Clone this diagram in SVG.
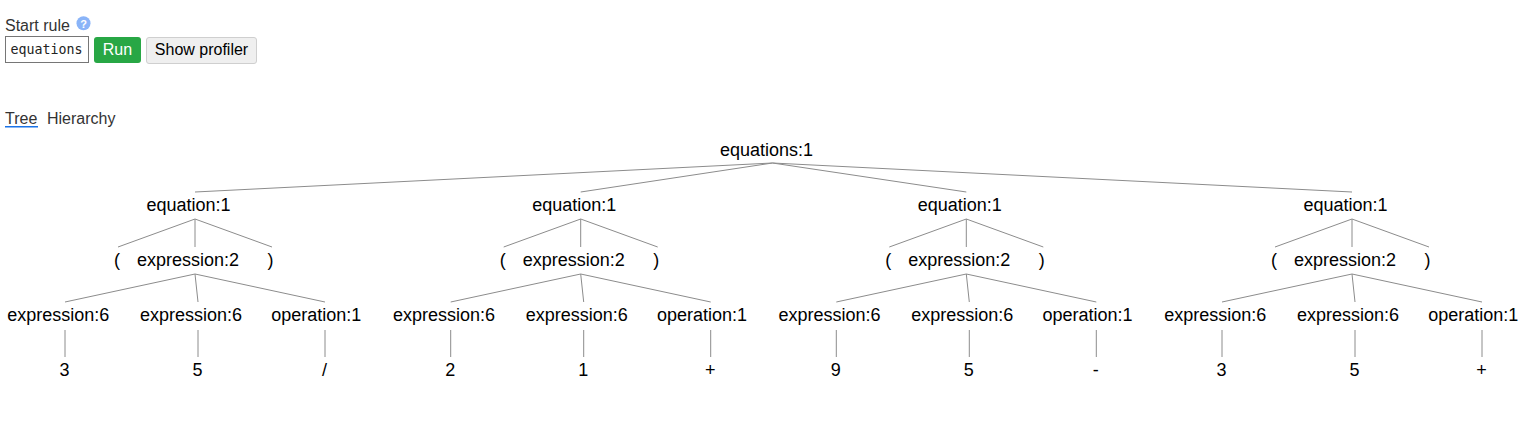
<svg xmlns="http://www.w3.org/2000/svg" width="1534" height="436" viewBox="0 0 1534 436">
<style>
.t{font-family:"Liberation Sans",Arial,sans-serif;font-size:18px;fill:#000;text-anchor:middle}
.h{font-family:"Liberation Sans",Arial,sans-serif;font-size:16px;fill:#333}
.c line{stroke:#8c8c8c;stroke-width:1}
</style>
<rect width="1534" height="436" fill="#fff"/>
<g id="header">
<text class="h" x="5" y="31">Start rule</text>
<circle cx="83.5" cy="23.3" r="7" fill="#8ab4f8"/>
<text x="83.5" y="27.5" font-family="Liberation Sans,sans-serif" font-size="11" font-weight="bold" fill="#fff" text-anchor="middle">?</text>
<rect x="5.5" y="36.5" width="83" height="26" fill="#fff" stroke="#767676"/>
<text x="10.5" y="54" font-family="DejaVu Sans Mono,monospace" font-size="13.3" fill="#222">equations</text>
<rect x="94" y="37" width="47" height="26" rx="3" fill="#28a745"/>
<text class="h" x="117.5" y="55" text-anchor="middle" style="fill:#fff">Run</text>
<rect x="146.5" y="37.5" width="110" height="26" rx="2.5" fill="#efefef" stroke="#cfcfcf"/>
<text class="h" x="201.5" y="55" text-anchor="middle" style="fill:#000">Show profiler</text>
<text class="h" x="5" y="123.5">Tree</text>
<rect x="5" y="126" width="33" height="1.5" fill="#1a73e8"/>
<text class="h" x="47" y="123.5">Hierarchy</text>
</g>
<g id="connectors" class="c">
<line x1="772.5" y1="163" x2="195" y2="192"/>
<line x1="772.5" y1="163" x2="580.7" y2="192"/>
<line x1="772.5" y1="163" x2="966.3" y2="192"/>
<line x1="772.5" y1="163" x2="1352" y2="192"/>
<line x1="195" y1="219" x2="118" y2="247"/><line x1="195" y1="219" x2="195" y2="247"/><line x1="195" y1="219" x2="272" y2="247"/>
<line x1="195" y1="274" x2="65" y2="302"/><line x1="195" y1="274" x2="198" y2="302"/><line x1="195" y1="274" x2="325" y2="302"/>
<line x1="65" y1="330" x2="65" y2="357"/><line x1="198" y1="330" x2="198" y2="357"/><line x1="325" y1="330" x2="325" y2="357"/>
<line x1="580.7" y1="219" x2="503.7" y2="247"/><line x1="580.7" y1="219" x2="580.7" y2="247"/><line x1="580.7" y1="219" x2="657.7" y2="247"/>
<line x1="580.7" y1="274" x2="450.7" y2="302"/><line x1="580.7" y1="274" x2="583.7" y2="302"/><line x1="580.7" y1="274" x2="710.7" y2="302"/>
<line x1="450.7" y1="330" x2="450.7" y2="357"/><line x1="583.7" y1="330" x2="583.7" y2="357"/><line x1="710.7" y1="330" x2="710.7" y2="357"/>
<line x1="966.3" y1="219" x2="889.3" y2="247"/><line x1="966.3" y1="219" x2="966.3" y2="247"/><line x1="966.3" y1="219" x2="1043.3" y2="247"/>
<line x1="966.3" y1="274" x2="836.3" y2="302"/><line x1="966.3" y1="274" x2="969.3" y2="302"/><line x1="966.3" y1="274" x2="1096.3" y2="302"/>
<line x1="836.3" y1="330" x2="836.3" y2="357"/><line x1="969.3" y1="330" x2="969.3" y2="357"/><line x1="1096.3" y1="330" x2="1096.3" y2="357"/>
<line x1="1352" y1="219" x2="1275" y2="247"/><line x1="1352" y1="219" x2="1352" y2="247"/><line x1="1352" y1="219" x2="1429" y2="247"/>
<line x1="1352" y1="274" x2="1222" y2="302"/><line x1="1352" y1="274" x2="1355" y2="302"/><line x1="1352" y1="274" x2="1482" y2="302"/>
<line x1="1222" y1="330" x2="1222" y2="357"/><line x1="1355" y1="330" x2="1355" y2="357"/><line x1="1482" y1="330" x2="1482" y2="357"/>
</g>
<g id="root"><text class="t" x="766.5" y="156">equations:1</text></g>
<g id="eq1">
<text class="t" x="188.5" y="211">equation:1</text>
<text class="t" x="117" y="266">(</text><text class="t" x="188" y="266">expression:2</text><text class="t" x="270.5" y="266">)</text>
<text class="t" x="58.3" y="321">expression:6</text><text class="t" x="191" y="321">expression:6</text><text class="t" x="316.3" y="321">operation:1</text>
<text class="t" x="64.5" y="376">3</text><text class="t" x="197.5" y="376">5</text><text class="t" x="324.5" y="376">/</text>
</g>
<g id="eq2">
<text class="t" x="574.2" y="211">equation:1</text>
<text class="t" x="502.7" y="266">(</text><text class="t" x="573.7" y="266">expression:2</text><text class="t" x="656.2" y="266">)</text>
<text class="t" x="444" y="321">expression:6</text><text class="t" x="576.7" y="321">expression:6</text><text class="t" x="702" y="321">operation:1</text>
<text class="t" x="450.2" y="376">2</text><text class="t" x="583.2" y="376">1</text><text class="t" x="710.2" y="376">+</text>
</g>
<g id="eq3">
<text class="t" x="959.8" y="211">equation:1</text>
<text class="t" x="888.3" y="266">(</text><text class="t" x="959.3" y="266">expression:2</text><text class="t" x="1041.8" y="266">)</text>
<text class="t" x="829.6" y="321">expression:6</text><text class="t" x="962.3" y="321">expression:6</text><text class="t" x="1087.6" y="321">operation:1</text>
<text class="t" x="835.8" y="376">9</text><text class="t" x="968.8" y="376">5</text><text class="t" x="1095.8" y="376">-</text>
</g>
<g id="eq4">
<text class="t" x="1345.5" y="211">equation:1</text>
<text class="t" x="1274" y="266">(</text><text class="t" x="1345" y="266">expression:2</text><text class="t" x="1427.5" y="266">)</text>
<text class="t" x="1215.3" y="321">expression:6</text><text class="t" x="1348" y="321">expression:6</text><text class="t" x="1473.3" y="321">operation:1</text>
<text class="t" x="1221.5" y="376">3</text><text class="t" x="1354.5" y="376">5</text><text class="t" x="1481.5" y="376">+</text>
</g>
</svg>
